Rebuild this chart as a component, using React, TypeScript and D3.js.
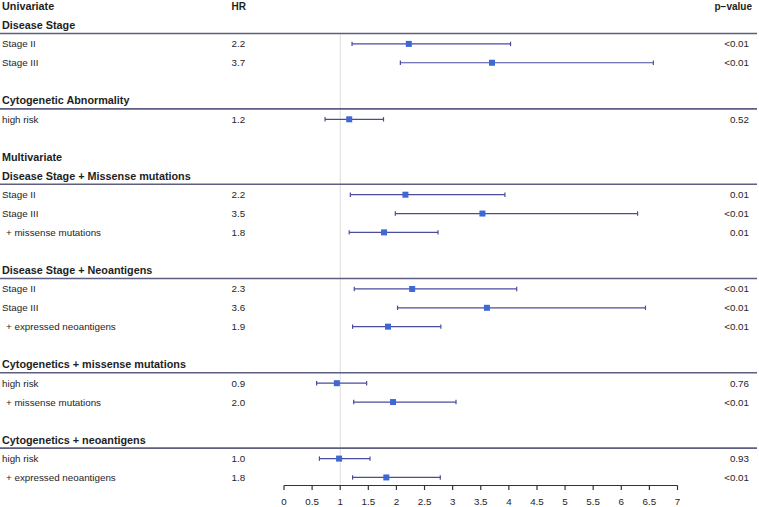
import React from "react";
import * as d3 from "d3";

const rowLabels = [
  "Univariate",
  "Disease Stage",
  "Stage II",
  "Stage III",
  "",
  "Cytogenetic Abnormality",
  "high risk",
  "",
  "Multivariate",
  "Disease Stage + Missense mutations",
  "Stage II",
  "Stage III",
  "+ missense mutations",
  "",
  "Disease Stage + Neoantigens",
  "Stage II",
  "Stage III",
  "+ expressed neoantigens",
  "",
  "Cytogenetics + missense mutations",
  "high risk",
  "+ missense mutations",
  "",
  "Cytogenetics + neoantigens",
  "high risk",
  "+ expressed neoantigens",
];

// s = section header, g = group header (with rule), i = item, c = covariate item (indented), b = blank
const rowKinds = [
  "s", "g", "i", "i", "b", "g", "i", "b",
  "s", "g", "i", "i", "c", "b",
  "g", "i", "i", "c", "b",
  "g", "i", "c", "b",
  "g", "i", "c",
];

const hrLabels = [
  "HR", "", "2.2", "3.7", "", "", "1.2", "",
  "", "", "2.2", "3.5", "1.8", "",
  "", "2.3", "3.6", "1.9", "",
  "", "0.9", "2.0", "",
  "", "1.0", "1.8",
];

const pLabels = [
  "p\u2212value", "", "<0.01", "<0.01", "", "", "0.52", "",
  "", "", "0.01", "<0.01", "0.01", "",
  "", "<0.01", "<0.01", "<0.01", "",
  "", "0.76", "<0.01", "",
  "", "0.93", "<0.01",
];

const hrMean: (number | null)[] = [
  null, null, 2.22, 3.7, null, null, 1.16, null,
  null, null, 2.16, 3.53, 1.78, null,
  null, 2.28, 3.61, 1.85, null,
  null, 0.94, 1.94, null,
  null, 0.98, 1.82,
];

const hrLower: (number | null)[] = [
  null, null, 1.21, 2.07, null, null, 0.73, null,
  null, null, 1.18, 1.98, 1.16, null,
  null, 1.25, 2.02, 1.22, null,
  null, 0.58, 1.24, null,
  null, 0.63, 1.22,
];

const hrUpper: (number | null)[] = [
  null, null, 4.03, 6.57, null, null, 1.77, null,
  null, null, 3.93, 6.29, 2.74, null,
  null, 4.14, 6.43, 2.79, null,
  null, 1.47, 3.06, null,
  null, 1.53, 2.78,
];

const axisTicks = [0, 0.5, 1, 1.5, 2, 2.5, 3, 3.5, 4, 4.5, 5, 5.5, 6, 6.5, 7];

const W = 759;
const H = 507;

export default function App() {
  const x = d3.scaleLinear().domain([0, 7]).range([284, 677.5]);
  const y = d3.scaleLinear().domain([0, 25]).range([6.2, 6.2 + 25 * 18.85]);
  const axisY = 485.5;
  const textColor = "#1e1e1e";
  const ruleColor = "#5e5e80";
  const ciColor = "#4b4b9c";
  const boxColor = "#3d68d6";
  const font = "'Liberation Sans', Arial, sans-serif";
  const sq = 6;

  return (
    <svg
      width={W}
      height={H}
      style={{ position: "absolute", left: 0, top: 0, background: "#fff" }}
      fontFamily={font}
    >
      <rect x={0} y={0} width={W} height={H} fill="#ffffff" />
      {/* reference line at HR = 1 */}
      <line
        x1={x(1)}
        x2={x(1)}
        y1={33}
        y2={axisY}
        stroke="#dcdcdc"
        strokeWidth={1}
      />
      {rowLabels.map((lab, i) => {
        const kind = rowKinds[i];
        const cy = y(i);
        const bold = kind === "s" || kind === "g";
        return (
          <g key={"r" + i}>
            {lab && (
              <text
                x={kind === "c" ? 6 : 2}
                y={cy}
                dominantBaseline="central"
                fontSize={bold ? 10.8 : 9.8}
                fontWeight={bold ? "bold" : "normal"}
                fill={textColor}
              >
                {lab}
              </text>
            )}
            {kind === "g" && (
              <line
                x1={0}
                x2={757}
                y1={cy + 8.4}
                y2={cy + 8.4}
                stroke={ruleColor}
                strokeWidth={1.6}
              />
            )}
            {hrLabels[i] && (
              <text
                x={231.5}
                y={cy}
                dominantBaseline="central"
                fontSize={i === 0 ? 10 : 9.8}
                fontWeight={i === 0 ? "bold" : "normal"}
                fill={textColor}
              >
                {hrLabels[i]}
              </text>
            )}
            {pLabels[i] && (
              <text
                x={i === 0 ? 752 : 749}
                y={cy}
                dominantBaseline="central"
                textAnchor="end"
                fontSize={i === 0 ? 10 : 9.8}
                fontWeight={i === 0 ? "bold" : "normal"}
                fill={textColor}
              >
                {pLabels[i]}
              </text>
            )}
            {hrMean[i] != null && (
              <g>
                <line
                  x1={x(hrLower[i] as number)}
                  x2={x(hrUpper[i] as number)}
                  y1={cy}
                  y2={cy}
                  stroke={ciColor}
                  strokeWidth={1.2}
                />
                <line
                  x1={x(hrLower[i] as number)}
                  x2={x(hrLower[i] as number)}
                  y1={cy - 2.2}
                  y2={cy + 2.2}
                  stroke={ciColor}
                  strokeWidth={1.2}
                />
                <line
                  x1={x(hrUpper[i] as number)}
                  x2={x(hrUpper[i] as number)}
                  y1={cy - 2.2}
                  y2={cy + 2.2}
                  stroke={ciColor}
                  strokeWidth={1.2}
                />
                <rect
                  x={x(hrMean[i] as number) - sq / 2}
                  y={cy - sq / 2}
                  width={sq}
                  height={sq}
                  fill={boxColor}
                />
              </g>
            )}
          </g>
        );
      })}
      {/* x axis */}
      <line
        x1={x(0)}
        x2={x(7)}
        y1={axisY}
        y2={axisY}
        stroke="#333"
        strokeWidth={1.2}
      />
      {axisTicks.map((t) => (
        <g key={"t" + t}>
          <line
            x1={x(t)}
            x2={x(t)}
            y1={axisY}
            y2={axisY + 4.5}
            stroke="#333"
            strokeWidth={1.2}
          />
          <text
            x={x(t)}
            y={501.5}
            textAnchor="middle"
            dominantBaseline="central"
            fontSize={9.8}
            fill={textColor}
          >
            {String(t)}
          </text>
        </g>
      ))}
    </svg>
  );
}
